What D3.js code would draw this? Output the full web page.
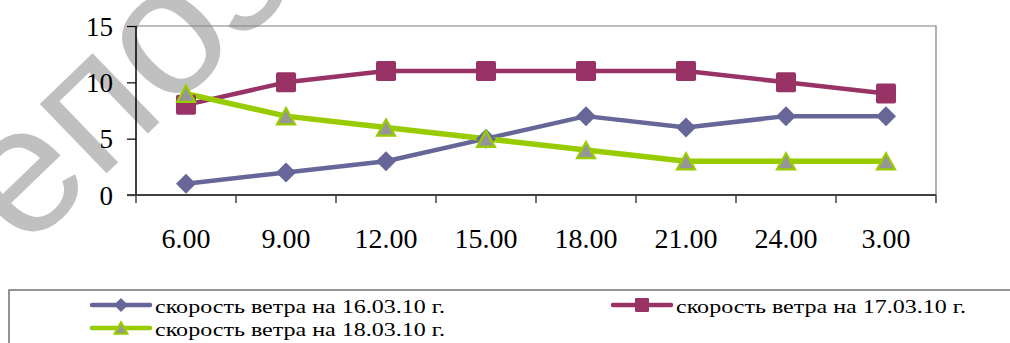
<!DOCTYPE html>
<html>
<head>
<meta charset="utf-8">
<script src="https://cdn.jsdelivr.net/npm/d3@7"></script>
<style>
  html, body { margin: 0; padding: 0; background: #fff; }
  svg { display: block; }
</style>
</head>
<body>
<svg id="chart" width="1010" height="343"></svg>
<script>
// Wind speed by hour of observation, three consecutive days
const categories = ["6.00", "9.00", "12.00", "15.00", "18.00", "21.00", "24.00", "3.00"];
const wind16 = [1, 2, 3, 5, 7, 6, 7, 7];
const wind17 = [8, 10, 11, 11, 11, 11, 10, 9];
const wind18 = [9, 7, 6, 5, 4, 3, 3, 3];
const yTicks = [0, 5, 10, 15];
const seriesNames = [
  "скорость ветра на 16.03.10 г.",
  "скорость ветра на 17.03.10 г.",
  "скорость ветра на 18.03.10 г."
];
const stampText = "Репозиторий БГПУ";

const series = [
  { name: seriesNames[0], values: wind16, color: "#666699", marker: "diamond", width: 4.5 },
  { name: seriesNames[1], values: wind17, color: "#993366", marker: "square", width: 4.5 },
  { name: seriesNames[2], values: wind18, color: "#99CC00", marker: "triangle", width: 5.5 }
];

const SERIF = '"Liberation Serif"';
const SANS = '"Liberation Sans"';

const svg = d3.select("#chart");

// Repository stamp running diagonally behind the chart
svg.append("text")
  .attr("transform", "translate(-57,331) rotate(-44)")
  .style("font-family", SANS)
  .style("font-size", "182px")
  .attr("fill", "#c0c0c0")
  .text(stampText);

const plot = { left: 136, right: 936, top: 26, bottom: 195 };

const x = d3.scaleBand().domain(categories).range([plot.left, plot.right]);
const y = d3.scaleLinear().domain([0, 15]).range([plot.bottom, plot.top]);

// Plot frame: top and right edges
svg.append("path")
  .attr("d", `M${plot.left},${plot.top}H${plot.right}V${plot.bottom}`)
  .attr("fill", "none").attr("stroke", "#808080").attr("stroke-width", 1.2);

// Y axis
const yAxis = d3.axisLeft(y).tickValues(yTicks).tickSize(9).tickPadding(14).tickFormat(d3.format("d"));
const gy = svg.append("g").attr("transform", `translate(${plot.left},0)`).call(yAxis);
gy.select(".domain").attr("stroke", "#000").attr("stroke-width", 1.5).attr("d", `M0,${plot.top}V${plot.bottom}`);
gy.selectAll(".tick line").attr("stroke", "#000").attr("stroke-width", 1.2);
gy.selectAll(".tick text")
  .style("font-family", SERIF).style("font-size", "27px")
  .attr("fill", "#000")
  .attr("dy", "0.34em");

// X axis: ticks between categories
const gx = svg.append("g").attr("transform", `translate(0,${plot.bottom})`);
gx.append("line")
  .attr("x1", plot.left - 9).attr("x2", plot.right)
  .attr("stroke", "#404040").attr("stroke-width", 2);
const boundaries = categories.map(c => x(c)).concat([x(categories[categories.length - 1]) + x.bandwidth()]);
gx.selectAll(".bt").data(boundaries).join("line")
  .attr("x1", d => d).attr("x2", d => d).attr("y1", 0).attr("y2", 8)
  .attr("stroke", "#404040").attr("stroke-width", 1.5);
gx.selectAll(".lbl").data(categories).join("text")
  .attr("x", d => x(d) + x.bandwidth() / 2)
  .attr("y", 53)
  .attr("text-anchor", "middle")
  .style("font-family", SERIF).style("font-size", "28px")
  .attr("fill", "#000")
  .text(d => d);

// Marker shapes
function markerPath(kind, r) {
  if (kind === "diamond") return `M0,${-r}L${r},0L0,${r}L${-r},0Z`;
  if (kind === "triangle") return `M0,${-r}L${r},${r * 0.8}L${-r},${r * 0.8}Z`;
  return null;
}
function drawMarker(g, kind, color, cx, cy, r) {
  if (kind === "square") {
    g.append("rect")
      .attr("x", cx - r).attr("y", cy - r).attr("width", 2 * r).attr("height", 2 * r)
      .attr("rx", r * 0.18).attr("fill", color);
  } else if (kind === "diamond") {
    g.append("path").attr("transform", `translate(${cx},${cy})`)
      .attr("d", markerPath(kind, r)).attr("fill", color);
  } else {
    g.append("path").attr("transform", `translate(${cx},${cy + r * 0.1})`)
      .attr("d", markerPath(kind, r * 0.9))
      .attr("fill", "#969696").attr("stroke", color).attr("stroke-width", 2.2)
      .attr("stroke-linejoin", "miter");
  }
}

const line = d3.line()
  .x((d, i) => x(categories[i]) + x.bandwidth() / 2)
  .y(d => y(d));

// Lines first, then markers on top
series.forEach(s => {
  svg.append("path")
    .attr("d", line(s.values))
    .attr("fill", "none").attr("stroke", s.color)
    .attr("stroke-width", s.width).attr("stroke-linejoin", "round").attr("stroke-linecap", "round");
});
series.forEach(s => {
  const g = svg.append("g");
  s.values.forEach((v, i) => {
    drawMarker(g, s.marker, s.color, x(categories[i]) + x.bandwidth() / 2, y(v), 10);
  });
});

// Legend
const legend = svg.append("g");
legend.append("rect")
  .attr("x", 9).attr("y", 290).attr("width", 1020).attr("height", 80)
  .attr("fill", "#fff").attr("stroke", "#707070").attr("stroke-width", 1.5);

const legendSlots = [
  { x: 92, y: 305 },
  { x: 613, y: 305 },
  { x: 92, y: 328 }
];
series.forEach((s, i) => {
  const p = legendSlots[i];
  const g = legend.append("g");
  g.append("line")
    .attr("x1", p.x).attr("x2", p.x + 58).attr("y1", p.y).attr("y2", p.y)
    .attr("stroke", s.color).attr("stroke-width", 4.5).attr("stroke-linecap", "round");
  drawMarker(g, s.marker, s.color, p.x + 29, p.y, 7);
  g.append("text")
    .attr("x", p.x + 63).attr("y", p.y + 8)
    .style("font-family", SERIF).style("font-size", "19px")
    .attr("fill", "#000")
    .attr("textLength", 290).attr("lengthAdjust", "spacingAndGlyphs")
    .text(s.name);
});
</script>
</body>
</html>
